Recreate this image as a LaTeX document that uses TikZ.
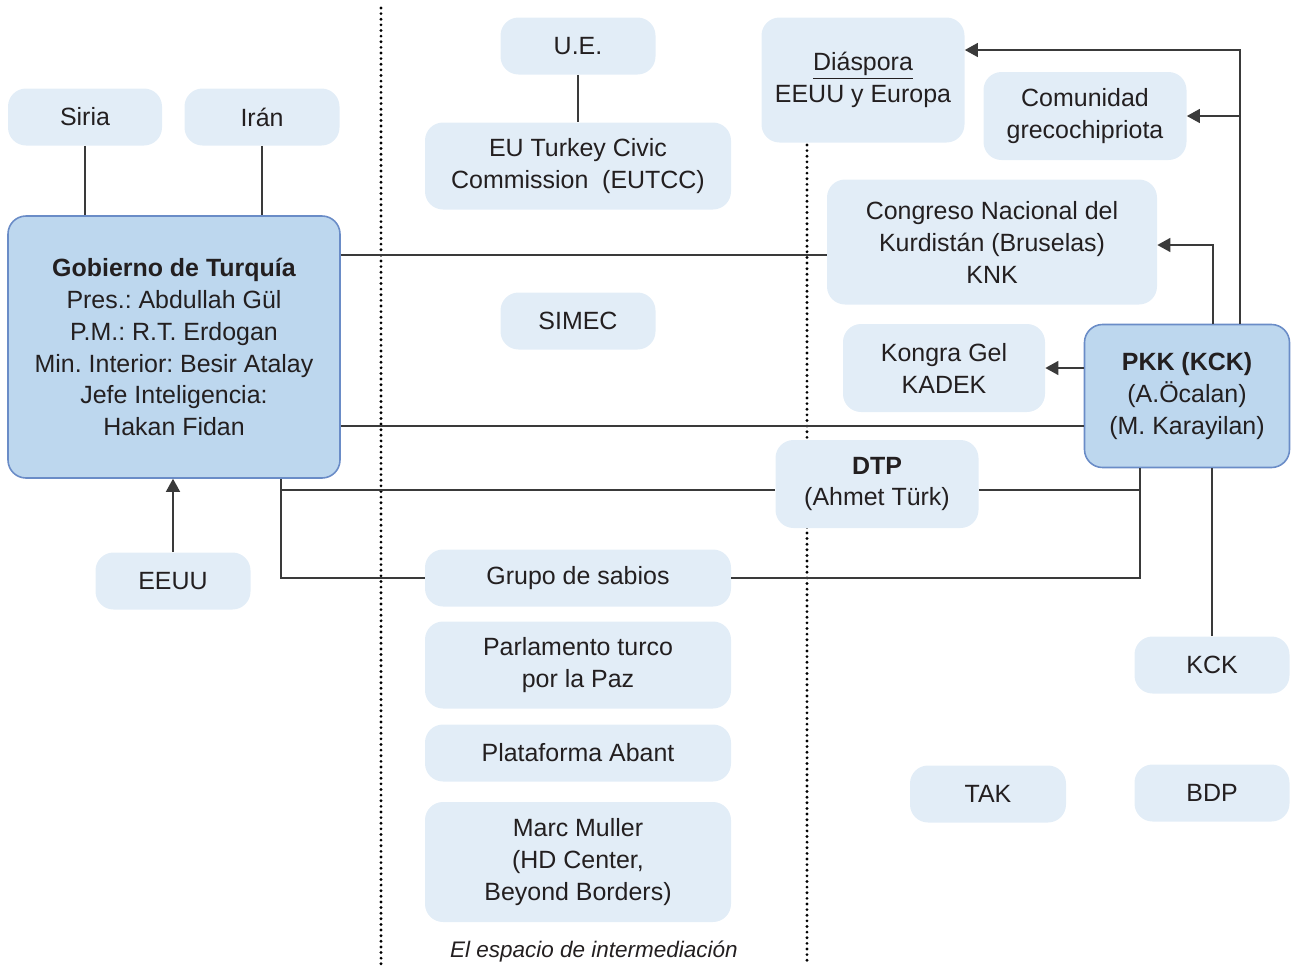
\documentclass[tikz,border=0pt]{standalone}
\usepackage{fontspec}
\setmainfont{Liberation Sans}
\usetikzlibrary{arrows.meta}
\definecolor{lightbox}{HTML}{E2EDF7}
\definecolor{darkbox}{HTML}{BDD7EE}
\definecolor{darkborder}{HTML}{6A8CC7}
\definecolor{txt}{HTML}{231F20}
\definecolor{linec}{HTML}{3A3A3A}
\frenchspacing
\begin{document}
\begin{tikzpicture}[x=0.02cm,y=-0.02cm,
  box/.style={fill=lightbox, draw=none, rounded corners=0.36cm, align=center,
    font=\fontsize{14.2}{18.2}\selectfont, text=txt, inner sep=0pt},
  wh/.style 2 args={minimum width={#1*0.02cm}, minimum height={#2*0.02cm}},
  bigbox/.style={box, fill=darkbox, draw=darkborder, line width=0.9pt},
  conn/.style={draw=linec, line width=0.8pt},
  arr/.style={conn, -{Triangle[length=0.26cm,width=0.28cm]}},
  sepline/.style={draw=black, line width=1.8pt, line cap=round, dash pattern=on 0pt off 3.2pt}]
\useasboundingbox (0,0) rectangle (1292,967);
% separators
\coordinate (s1t) at (381,8);
\coordinate (s1b) at (381,965);
\coordinate (s2t) at (807,145);
\coordinate (s2b) at (807,965);
\draw[sepline] (s1t) -- (s1b);
\draw[sepline] (s2t) -- (s2b);
% nodes
\node[box, wh={154}{57}] (siria) at (85,117) {Siria};
\node[box, wh={155}{57}] (iran) at (262,117) {Irán};
\node[bigbox, wh={332}{262}] (gob) at (174,347) {\textbf{Gobierno de Turquía}\\Pres.: Abdullah Gül\\P.M.: R.T. Erdogan\\Min. Interior: Besir Atalay\\Jefe Inteligencia:\\Hakan Fidan};
\node[box, wh={155}{57}] (eeuu) at (173,581) {EEUU};
\node[box, wh={155}{57}] (ue) at (578,46) {U.E.};
\node[box, wh={306}{87}] (eutcc) at (578,166) {EU Turkey Civic\\Commission\ \ (EUTCC)};
\node[box, wh={155}{57}] (simec) at (578,321) {SIMEC};
\node[box, wh={306}{57}] (grupo) at (578,578) {Grupo de sabios};
\node[box, wh={306}{87}] (parl) at (578,665) {Parlamento turco\\por la Paz};
\node[box, wh={306}{57}] (abant) at (578,753) {Plataforma Abant};
\node[box, wh={306}{120}] (marc) at (578,862) {Marc Muller\\(HD Center,\\Beyond Borders)};
\node[box, wh={203}{125}] (dias) at (863,80) {\underline{Diáspora}\\EEUU y Europa};
\node[box, wh={203}{88}] (com) at (1085,116) {Comunidad\\grecochipriota};
\node[box, wh={330}{125}] (cong) at (992,242) {Congreso Nacional del\\Kurdistán (Bruselas)\\KNK};
\node[box, wh={202}{88}] (kg) at (944,368) {Kongra Gel\\KADEK};
\node[bigbox, wh={205}{143}] (pkk) at (1187,396) {\textbf{PKK (KCK)}\\(A.Öcalan)\\(M. Karayilan)};
\node[box, wh={203}{88}] (dtp) at (877,484) {\textbf{DTP}\\(Ahmet Türk)};
\node[box, wh={155}{57}] (kck) at (1212,665) {KCK};
\node[box, wh={156}{57}] (tak) at (988,794) {TAK};
\node[box, wh={155}{57}] (bdp) at (1212,793) {BDP};
\node[font=\fontsize{12.8}{15}\selectfont\itshape, text=txt] (lbl) at (594,952) {El espacio de intermediación};
% connectors
\draw[conn] (siria.south) -- (siria.south |- gob.north);
\draw[conn] (iran.south) -- (iran.south |- gob.north);
\draw[conn] (ue.south) -- (eutcc.north);
\draw[arr] (eeuu.north) -- (eeuu.north |- gob.south);
\coordinate (y255) at (0,255);
\coordinate (y426) at (0,426);
\draw[conn] (gob.east |- y255) -- (cong.west |- y255);
\draw[conn] (gob.east |- y426) -- (pkk.west |- y426);
\coordinate (jx) at (281,490);
\draw[conn] (gob.south -| jx) -- (jx) -- (dtp.west |- jx);
\draw[conn] (jx) |- (grupo.west);
\coordinate (kx) at (1140,490);
\draw[conn] (dtp.east |- kx) -- (kx) -- (kx |- pkk.south);
\draw[conn] (grupo.east) -| (kx);
\draw[conn] (kck.north) -- (kck.north |- pkk.south);
\draw[arr] (pkk.west |- kg.east) -- (kg.east);
\coordinate (c1) at (1213,245);
\draw[arr] (pkk.north -| c1) -- (c1) -- (cong.east |- c1);
\coordinate (c2) at (1240,50);
\draw[arr] (pkk.north -| c2) -- (c2) -- (dias.east |- c2);
\draw[arr] (c2 |- com.east) -- (com.east);
\end{tikzpicture}
\end{document}
